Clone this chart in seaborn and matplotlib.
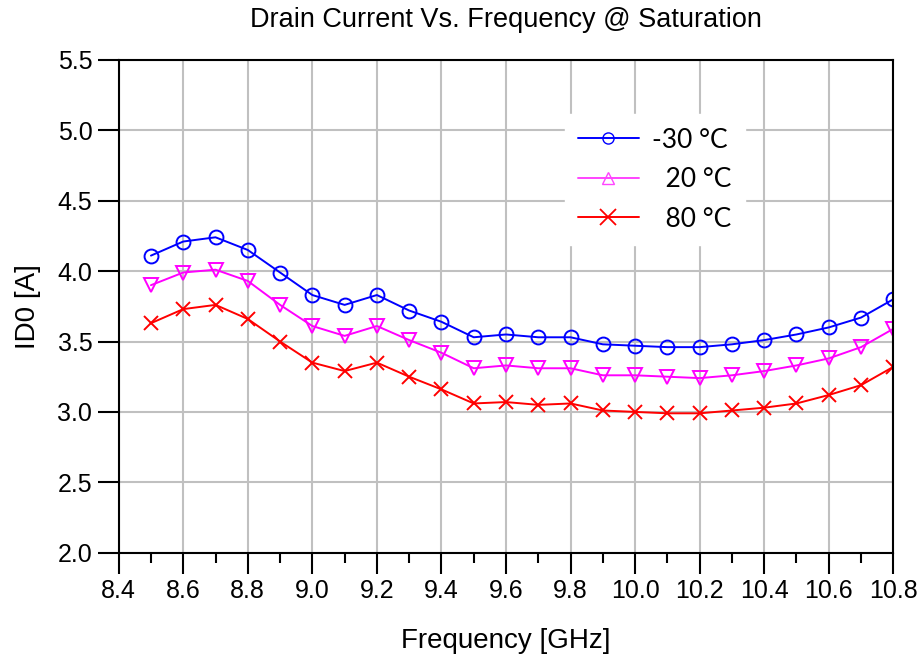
import numpy as np
import matplotlib
matplotlib.use('Agg')
import matplotlib.pyplot as plt
import seaborn as sns
from matplotlib.lines import Line2D
from matplotlib.ticker import MultipleLocator, FormatStrFormatter

# frequency sweep [GHz]
freq = [8.5, 8.6, 8.7, 8.8, 8.9, 9.0, 9.1, 9.2, 9.3, 9.4, 9.5, 9.6,
        9.7, 9.8, 9.9, 10.0, 10.1, 10.2, 10.3, 10.4, 10.5, 10.6, 10.7, 10.8]

# drain current at saturation [A]
id_m30 = [4.11, 4.21, 4.24, 4.15, 3.99, 3.83, 3.76, 3.83, 3.72, 3.64, 3.53, 3.55,
          3.53, 3.53, 3.48, 3.47, 3.46, 3.46, 3.48, 3.51, 3.55, 3.60, 3.67, 3.80]
id_20 = [3.90, 3.99, 4.01, 3.93, 3.76, 3.61, 3.54, 3.61, 3.51, 3.42, 3.31, 3.33,
         3.31, 3.31, 3.26, 3.26, 3.25, 3.24, 3.26, 3.29, 3.33, 3.38, 3.46, 3.59]
id_80 = [3.63, 3.73, 3.76, 3.66, 3.50, 3.35, 3.29, 3.35, 3.25, 3.16, 3.06, 3.07,
         3.05, 3.06, 3.01, 3.00, 2.99, 2.99, 3.01, 3.03, 3.06, 3.12, 3.19, 3.32]

labels = ['-30 °C', '  20 °C', '  80 °C']

sns.set_style('white')
plt.rcParams['font.family'] = ['Liberation Sans', 'DejaVu Sans']
plt.rcParams.update({'text.color': 'black', 'axes.labelcolor': 'black',
                     'xtick.color': 'black', 'ytick.color': 'black'})

fig = plt.figure(figsize=(9.2, 6.58), dpi=100)
ax = fig.add_axes([0.129, 0.160, 0.842, 0.749])

sns.lineplot(x=freq, y=id_m30, ax=ax, color='#0000ff', marker='o', ms=10,
             mfc='none', mec='#0000ff', mew=1.4, lw=1.4)
sns.lineplot(x=freq, y=id_20, ax=ax, color='#ff00ff', marker='v', ms=10,
             mfc='none', mec='#ff00ff', mew=1.4, lw=1.4)
sns.lineplot(x=freq, y=id_80, ax=ax, color='#ff0000', marker='x', ms=10,
             mec='#ff0000', mew=1.4, lw=1.4)

ax.set_xlim(8.4, 10.8)
ax.set_ylim(2.0, 5.5)
ax.xaxis.set_major_locator(MultipleLocator(0.2))
ax.xaxis.set_minor_locator(MultipleLocator(0.1))
ax.yaxis.set_major_locator(MultipleLocator(0.5))
ax.xaxis.set_major_formatter(FormatStrFormatter('%.1f'))
ax.yaxis.set_major_formatter(FormatStrFormatter('%.1f'))

ax.grid(True, which='major', color='#c0c0c0', lw=1.5)
ax.set_axisbelow(True)
for s in ax.spines.values():
    s.set_visible(True)
    s.set_color('black')
    s.set_linewidth(1.5)

ax.tick_params(axis='both', which='major', direction='out', length=15, width=1.5,
               color='black', labelsize=18, pad=4, bottom=True, left=True)
ax.tick_params(axis='x', which='minor', direction='out', length=7, width=1.5,
               color='black', bottom=True)

ax.set_title('Drain Current Vs. Frequency @ Saturation', fontsize=19.5, pad=24)
ax.set_xlabel('Frequency [GHz]', fontsize=20, labelpad=18)
ax.set_ylabel('ID0 [A]', fontsize=20, labelpad=12)

handles = [
    Line2D([], [], color='#0000ff', marker='o', ms=8, mfc='none', lw=1.4),
    Line2D([], [], color='#ff44ff', marker='^', ms=8, mfc='none', lw=1.4),
    Line2D([], [], color='#ff0000', marker='x', ms=12, mew=1.3, lw=1.4),
]
leg = ax.legend(handles, labels, loc='center', bbox_to_anchor=(0.692, 0.757),
                frameon=True, fancybox=False, edgecolor='white', framealpha=1,
                handlelength=2.3, handletextpad=0.5, borderpad=0.5,
                labelspacing=0.55,
                prop={'family': ['Lato', 'DejaVu Sans'], 'size': 19})

fig.savefig('out.png', dpi=100)
